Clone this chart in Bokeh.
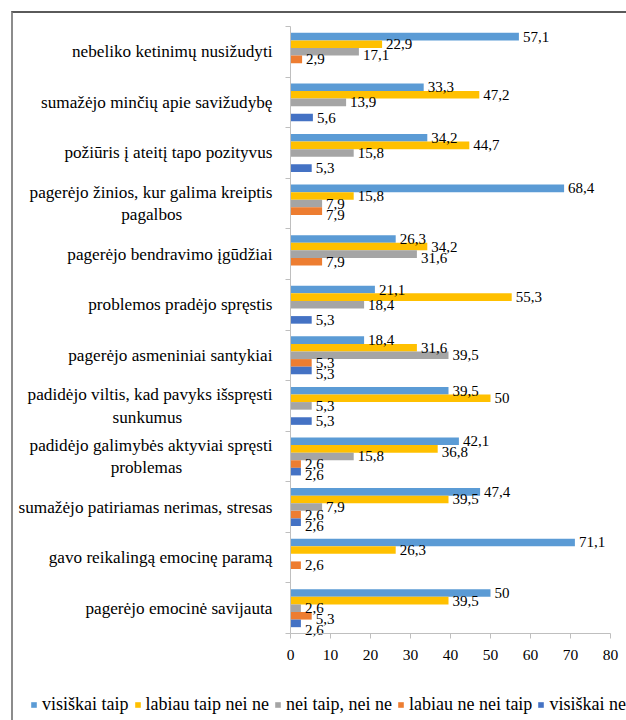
from bokeh.plotting import figure
from bokeh.models import FixedTicker, Legend, LegendItem, ColumnDataSource
from bokeh.core.properties import value
from bokeh.embed import file_html
from bokeh.resources import INLINE

categories = [
    "nebeliko ketinimų nusižudyti",
    "sumažėjo minčių apie savižudybę",
    "požiūris į ateitį tapo pozityvus",
    "pagerėjo žinios, kur galima kreiptis\npagalbos",
    "pagerėjo bendravimo įgūdžiai",
    "problemos pradėjo spręstis",
    "pagerėjo asmeniniai santykiai",
    "padidėjo viltis, kad pavyks išspręsti\nsunkumus",
    "padidėjo galimybės aktyviai spręsti\nproblemas",
    "sumažėjo patiriamas nerimas, stresas",
    "gavo reikalingą emocinę paramą",
    "pagerėjo emocinė savijauta",
]
series_names = ["visiškai taip", "labiau taip nei ne", "nei taip, nei ne",
                "labiau ne nei taip", "visiškai ne"]
visiskai_taip = [57.1, 33.3, 34.2, 68.4, 26.3, 21.1, 18.4, 39.5, 42.1, 47.4, 71.1, 50]
labiau_taip = [22.9, 47.2, 44.7, 15.8, 34.2, 55.3, 31.6, 50, 36.8, 39.5, 26.3, 39.5]
nei_taip_nei_ne = [17.1, 13.9, 15.8, 7.9, 31.6, 18.4, 39.5, 5.3, 15.8, 7.9, 0, 2.6]
labiau_ne = [2.9, 0, 0, 7.9, 7.9, 0, 5.3, 0, 2.6, 2.6, 2.6, 5.3]
visiskai_ne = [0, 5.6, 5.3, 0, 0, 5.3, 5.3, 5.3, 2.6, 2.6, 0, 2.6]
x_ticks = [0, 10, 20, 30, 40, 50, 60, 70, 80]

series = [visiskai_taip, labiau_taip, nei_taip_nei_ne, labiau_ne, visiskai_ne]
colors = ["#5B9BD5", "#FFC000", "#A5A5A5", "#ED7D31", "#4472C4"]
FONT = "Liberation Serif"

n = len(categories)
XMAX = 80.0
# canvas geometry (the plot frame covers the whole canvas; axes are pinned at 0)
CW, CH = 613, 707
PLOT_L, PLOT_T, PLOT_W, PLOT_H = 277, 13, 320, 607
ppu_x = PLOT_W / XMAX
ppu_y = PLOT_H / float(n)
x_start = -PLOT_L / ppu_x
x_end = (CW - PLOT_L) / ppu_x
y_end = n + PLOT_T / ppu_y
y_start = -(CH - PLOT_T - PLOT_H) / ppu_y

bar_h = 0.15
offsets = [0.3, 0.15, 0.0, -0.15, -0.3]
centers = [n - i - 0.5 for i in range(n)]

# wrapped second lines are centred under the first line, as in the original
def label_text(s):
    if "\n" not in s:
        return s
    first, second = s.split("\n")
    return first + "\n" + second + "\u00a0" * 21

p = figure(frame_width=CW, frame_height=CH, x_range=(x_start, x_end),
           y_range=(y_start, y_end), output_backend="svg", toolbar_location=None,
           min_border_left=0, min_border_top=0, min_border_right=0,
           min_border_bottom=0, background_fill_color="white",
           border_fill_color="white", outline_line_color=None)
p.margin = (11, 0, 0, 11)
p.styles = {"border-top": "2px solid #5a5a5a", "border-left": "2px solid #8c8c8c"}
p.grid.visible = False

renderers = []
for j, vals in enumerate(series):
    ys = [c + offsets[j] for c in centers]
    src = ColumnDataSource(dict(y=ys, right=vals))
    r = p.hbar(y="y", left=0, right="right", height=bar_h, source=src,
               fill_color=colors[j], line_color=None)
    renderers.append(r)

def text_w(s):
    return sum(3.8 if ch == "," else 7.5 for ch in s)

lx, ly, lt = [], [], []
gap = 11.0
for i in range(n):
    placed = []
    for j, vals in enumerate(series):
        v = vals[i]
        if v == 0:
            continue
        t = ("%g" % v).replace(".", ",")
        x0 = v * ppu_x + 4
        x1 = x0 + text_w(t)
        ypx = -offsets[j] * ppu_y
        for (px0, px1, py) in placed:
            if x0 < px1 + 2 and px0 < x1 + 2 and ypx - py < gap:
                ypx = py + gap
        placed.append((x0, x1, ypx))
        lx.append(v)
        ly.append(centers[i] - ypx / ppu_y)
        lt.append(t)

p.text(x=lx, y=ly, text=lt, x_offset=4, text_baseline="middle", text_align="left",
       text_font=value(FONT), text_font_size="15px", text_color="#000000")

ax = p.xaxis[0]
ax.fixed_location = 0
ax.bounds = (0, XMAX)
ax.ticker = FixedTicker(ticks=x_ticks, minor_ticks=[])
ax.axis_line_color = "#BFBFBF"
ax.major_tick_line_color = "#BFBFBF"
ax.major_tick_out = 5
ax.major_tick_in = 0
ax.minor_tick_line_color = None
ax.major_label_text_font = FONT
ax.major_label_text_font_size = "15.5px"
ax.major_label_text_color = "#000000"
ax.major_label_standoff = 11

ay = p.yaxis[0]
ay.fixed_location = 0
ay.bounds = (0, n)
ay.ticker = FixedTicker(ticks=centers, minor_ticks=list(range(n + 1)))
ay.major_label_overrides = {c: label_text(categories[i]) for i, c in enumerate(centers)}
ay.axis_line_color = "#BFBFBF"
ay.major_tick_line_color = None
ay.major_tick_out = 0
ay.major_tick_in = 0
ay.minor_tick_line_color = "#BFBFBF"
ay.minor_tick_out = 5
ay.minor_tick_in = 0
ay.major_label_text_font = FONT
ay.major_label_text_font_size = "17.2px"
ay.major_label_text_color = "#000000"
ay.major_label_standoff = 13

legend = Legend(items=[LegendItem(label=series_names[j], renderers=[renderers[j]])
                       for j in range(5)],
                orientation="horizontal", location=(17, 5),
                glyph_width=7, glyph_height=7, label_standoff=5, spacing=5,
                label_text_font=FONT, label_text_font_size="18px",
                label_text_color="#000000", padding=0, margin=0,
                border_line_color=None, background_fill_alpha=0)
p.add_layout(legend)

open("out.html", "w").write(file_html(p, INLINE))
